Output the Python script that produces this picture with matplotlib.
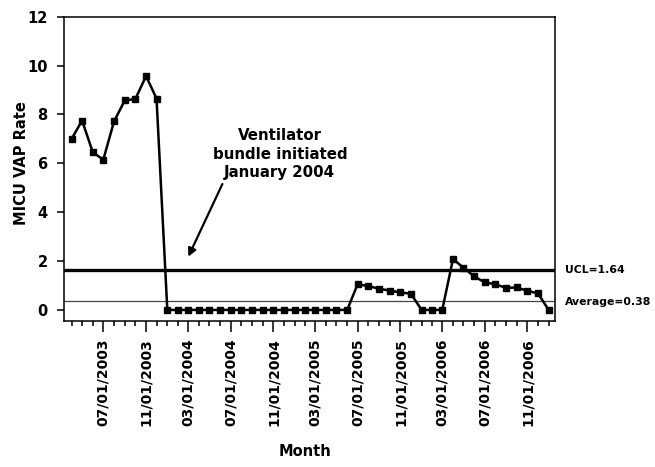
import matplotlib
matplotlib.use('Agg')
import matplotlib.pyplot as plt
import matplotlib.dates as mdates
import pandas as pd

# monthly MICU VAP rate, April 2003 - January 2007
first_month = '2003-04-01'
vap_rate = [7.0, 7.75, 6.45, 6.15, 7.72, 8.58, 8.63, 9.57, 8.65,
            0, 0, 0, 0, 0, 0, 0, 0, 0, 0, 0, 0, 0, 0, 0, 0, 0, 0,
            1.06, 0.97, 0.87, 0.79, 0.72, 0.66,
            0, 0, 0,
            2.08, 1.73, 1.37, 1.13, 1.05, 0.90, 0.92, 0.78, 0.68,
            0]
ucl = 1.64
average = 0.38
annotation = 'Ventilator\nbundle initiated\nJanuary 2004'

months = pd.date_range(first_month, periods=len(vap_rate), freq='MS')

plt.rcParams['font.family'] = 'DejaVu Sans'
plt.rcParams['font.weight'] = 'bold'

fig = plt.figure(figsize=(6.55, 4.67), dpi=100)
ax = fig.add_axes([0.0982, 0.3133, 0.7496, 0.6509])

ax.axhline(ucl, color='black', lw=2.4, zorder=2)
ax.axhline(average, color='#444444', lw=0.9, zorder=2)
ax.plot(months, vap_rate, color='black', lw=1.8, marker='s', markersize=4.3,
        zorder=3)

ax.set_xlim(pd.Timestamp('2003-03-11'), pd.Timestamp('2007-01-20'))
ax.set_ylim(-0.44, 12)
ax.set_yticks(range(0, 13, 2))

ax.xaxis.set_major_locator(mdates.MonthLocator(bymonth=(3, 7, 11)))
ax.xaxis.set_minor_locator(mdates.MonthLocator())
ax.xaxis.set_major_formatter(mdates.DateFormatter('%m/%d/%Y'))
ax.tick_params(axis='x', which='major', length=7.7, width=1.1, pad=5,
               labelrotation=90, labelsize=10)
ax.tick_params(axis='x', which='minor', length=3.6, width=1.1)
ax.tick_params(axis='y', length=5, width=1.1, pad=7, labelsize=10.5)
for lab in ax.get_xticklabels() + ax.get_yticklabels():
    lab.set_fontweight('bold')

for sp in ax.spines.values():
    sp.set_linewidth(1.1)

ax.set_ylabel('MICU VAP Rate', fontsize=10.5, fontweight='bold')
ax.yaxis.set_label_coords(-0.072, 0.52)
ax.set_xlabel('Month', fontsize=10.5, fontweight='bold')
ax.xaxis.set_label_coords(0.49, -0.405)

# control limit labels to the right of the axes
ax.text(1.02, ucl, 'UCL=%.2f' % ucl, transform=ax.get_yaxis_transform(),
        va='center', ha='left', fontsize=7.8, fontweight='bold')
ax.text(1.02, average - 0.05, 'Average=%.2f' % average,
        transform=ax.get_yaxis_transform(),
        va='center', ha='left', fontsize=7.8, fontweight='bold')

ax.text(0.439, 0.548, annotation, transform=ax.transAxes, ha='center',
        va='center', fontsize=10.8, fontweight='bold', linespacing=1.3)
ax.annotate('', xy=(0.2525, 0.2105), xytext=(0.322, 0.4497),
            xycoords='axes fraction', textcoords='axes fraction',
            arrowprops=dict(arrowstyle='-|>', color='black', lw=1.6,
                            mutation_scale=12, shrinkA=0, shrinkB=0))

fig.savefig('out.png', dpi=100)
